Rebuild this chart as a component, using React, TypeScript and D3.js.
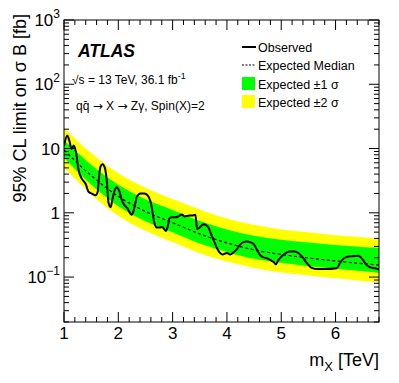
import React from "react";
import * as d3 from "d3";

// expected limit band, sampled every 0.5 TeV
const bandMass = [1.0, 1.5, 2.0, 2.5, 3.0, 3.5, 4.0, 4.5, 5.0, 5.5, 6.0, 6.5, 6.8];
const expMedian = [9.5, 3.8, 1.8, 1.05, 0.7, 0.47, 0.34, 0.265, 0.225, 0.198, 0.178, 0.162, 0.153];
const expPlus2 = [20.8, 8.5, 4.12, 2.46, 1.64, 1.13, 0.816, 0.65, 0.552, 0.497, 0.447, 0.416, 0.393];
const expPlus1 = [13.4, 5.6, 2.73, 1.63, 1.11, 0.745, 0.55, 0.44, 0.382, 0.344, 0.316, 0.295, 0.285];
const expMinus1 = [7.2, 2.75, 1.27, 0.74, 0.5, 0.333, 0.246, 0.192, 0.167, 0.147, 0.135, 0.123, 0.116];
const expMinus2 = [5.1, 1.95, 0.9, 0.526, 0.35, 0.235, 0.174, 0.139, 0.118, 0.106, 0.0956, 0.087, 0.082];

// observed limit
const obsMass = [
  1.0, 1.06, 1.1, 1.14, 1.18, 1.22, 1.27, 1.33, 1.4, 1.45,
  1.52, 1.58, 1.62, 1.64, 1.67, 1.71, 1.75, 1.79, 1.82, 1.86,
  1.89, 1.93, 1.97, 2.02, 2.07, 2.11, 2.17, 2.22, 2.25, 2.3,
  2.34, 2.41, 2.48, 2.54, 2.59, 2.63, 2.66, 2.71, 2.76, 2.81,
  2.85, 2.88, 2.92, 2.94, 2.99, 3.05, 3.11, 3.17, 3.22, 3.29,
  3.36, 3.42, 3.45, 3.49, 3.57, 3.62, 3.66, 3.72, 3.78, 3.82,
  3.88, 3.92, 4.0, 4.06, 4.12, 4.18, 4.24, 4.31, 4.37, 4.43,
  4.49, 4.54, 4.59, 4.65, 4.74, 4.81, 4.87, 4.9, 4.95, 5.02,
  5.09, 5.16, 5.24, 5.32, 5.38, 5.44, 5.5, 5.56, 5.68, 5.81,
  6.02, 6.08, 6.14, 6.21, 6.3, 6.42, 6.48, 6.53, 6.58, 6.63,
  6.73, 6.8,
];
const obsLimit = [
  11.0, 16.0, 13.1, 9.9, 11.2, 8.85, 4.57, 3.37, 2.81, 2.14,
  1.97, 1.87, 2.11, 3.25, 5.17, 5.7, 5.08, 3.02, 1.43, 1.22,
  1.59, 2.19, 2.5, 2.15, 1.53, 1.33, 1.17, 0.98, 0.93, 1.24,
  1.77, 2.0, 2.0, 1.87, 1.53, 1.03, 0.72, 0.59, 0.59, 0.6,
  0.55, 0.52, 0.67, 0.82, 0.85, 0.85, 0.88, 0.94, 0.88, 0.9,
  0.91, 0.93, 0.56, 0.58, 0.665, 0.64, 0.59, 0.44, 0.334, 0.279,
  0.234, 0.225, 0.238, 0.225, 0.242, 0.27, 0.317, 0.353, 0.357, 0.349,
  0.328, 0.279, 0.234, 0.206, 0.195, 0.182, 0.169, 0.158, 0.185, 0.214,
  0.238, 0.249, 0.249, 0.235, 0.21, 0.179, 0.155, 0.139, 0.133, 0.133,
  0.137, 0.164, 0.192, 0.206, 0.211, 0.214, 0.197, 0.172, 0.152, 0.143,
  0.137, 0.132,
];

const xTickValues = [1, 2, 3, 4, 5, 6];
const yTickExponents = [-1, 0, 1, 2, 3];
const legendLabels = ["Observed", "Expected Median", "Expected \u00b11 \u03c3", "Expected \u00b12 \u03c3"];

const FONT = "'Liberation Sans', Arial, Helvetica, sans-serif";
const ARROW_FONT = "'DejaVu Sans', sans-serif";

export default function App() {
  const width = 399;
  const height = 383;
  const margin = { top: 20, right: 20, bottom: 61, left: 64 };
  const x0 = margin.left;
  const x1 = width - margin.right;
  const y0 = margin.top;
  const y1 = height - margin.bottom;

  const x = d3.scaleLinear().domain([1, 6.8]).range([x0, x1]);
  const y = d3.scaleLog().domain([0.02, 1000]).range([y1, y0]);

  const idx = d3.range(bandMass.length);
  const band = (lo: number[], hi: number[]) =>
    d3
      .area<number>()
      .x((i) => x(bandMass[i]))
      .y0((i) => y(lo[i]))
      .y1((i) => y(hi[i]))
      .curve(d3.curveMonotoneX)(idx) || "";

  const medianPath =
    d3
      .line<number>()
      .x((i) => x(bandMass[i]))
      .y((i) => y(expMedian[i]))
      .curve(d3.curveMonotoneX)(idx) || "";

  const obsPath =
    d3
      .line<number>()
      .x((i) => x(obsMass[i]))
      .y((i) => y(obsLimit[i]))
      .curve(d3.curveMonotoneX)(d3.range(obsMass.length)) || "";

  // minor ticks
  const xMinor = d3.range(1, 6.8001, 0.2).filter((v) => Math.abs(v - Math.round(v)) > 0.01);
  const yMinor: number[] = [];
  for (let e = -2; e <= 2; e++) {
    for (let k = 2; k <= 9; k++) {
      const v = k * Math.pow(10, e);
      if (v >= 0.02 && v <= 1000) yMinor.push(v);
    }
  }

  const majorLen = 10;
  const minorLen = 5;
  const legX = 242;
  const legRows = [47, 65, 84, 102];

  return (
    <svg
      width={width}
      height={height}
      style={{ position: "absolute", left: 0, top: 0, background: "#fff" }}
      fontFamily={FONT}
    >
      <defs>
        <clipPath id="frame">
          <rect x={x0} y={y0} width={x1 - x0} height={y1 - y0} />
        </clipPath>
      </defs>

      <g clipPath="url(#frame)">
        <path d={band(expMinus2, expPlus2)} fill="#ffff00" />
        <path d={band(expMinus1, expPlus1)} fill="#00ff00" />
        <path d={medianPath} fill="none" stroke="#000" strokeWidth={1.2} strokeDasharray="3 2.5" />
        <path d={obsPath} fill="none" stroke="#000" strokeWidth={2} strokeLinejoin="round" />
      </g>

      {/* frame and ticks */}
      <rect x={x0} y={y0} width={x1 - x0} height={y1 - y0} fill="none" stroke="#000" strokeWidth={1} />
      <g stroke="#000" strokeWidth={1}>
        {xTickValues.map((v) => (
          <g key={`xM${v}`}>
            <line x1={x(v)} x2={x(v)} y1={y1} y2={y1 - majorLen} />
            <line x1={x(v)} x2={x(v)} y1={y0} y2={y0 + majorLen} />
          </g>
        ))}
        {xMinor.map((v) => (
          <g key={`xm${v}`}>
            <line x1={x(v)} x2={x(v)} y1={y1} y2={y1 - minorLen} />
            <line x1={x(v)} x2={x(v)} y1={y0} y2={y0 + minorLen} />
          </g>
        ))}
        {yTickExponents.map((e) => {
          const py = y(Math.pow(10, e));
          return (
            <g key={`yM${e}`}>
              <line x1={x0} x2={x0 + majorLen} y1={py} y2={py} />
              <line x1={x1} x2={x1 - majorLen} y1={py} y2={py} />
            </g>
          );
        })}
        {yMinor.map((v) => (
          <g key={`ym${v}`}>
            <line x1={x0} x2={x0 + minorLen} y1={y(v)} y2={y(v)} />
            <line x1={x1} x2={x1 - minorLen} y1={y(v)} y2={y(v)} />
          </g>
        ))}
      </g>

      {/* tick labels */}
      <g fontSize={17} fill="#000">
        {xTickValues.map((v) => (
          <text key={`xl${v}`} x={x(v)} y={y1 + 17} textAnchor="middle">
            {v}
          </text>
        ))}
        {yTickExponents.map((e) => {
          const py = y(Math.pow(10, e)) + 6;
          if (e === 0)
            return (
              <text key={`yl${e}`} x={60} y={py} textAnchor="end">
                1
              </text>
            );
          if (e === 1)
            return (
              <text key={`yl${e}`} x={60} y={py} textAnchor="end">
                10
              </text>
            );
          return (
            <text key={`yl${e}`} x={60} y={py} textAnchor="end">
              10
              <tspan fontSize={12} dy={-8}>
                {e < 0 ? `\u2212${-e}` : e}
              </tspan>
            </text>
          );
        })}
      </g>

      {/* axis titles */}
      <text transform={`translate(26, 14) rotate(-90)`} textAnchor="end" fontSize={18}>
        95% CL limit on σ B [fb]
      </text>
      <text x={x1} y={366} textAnchor="end" fontSize={18}>
        m<tspan fontSize={13} dy={5}>X</tspan>
        <tspan dy={-5}> [TeV]</tspan>
      </text>

      {/* labels */}
      <text x={78} y={57} fontSize={17.5} fontWeight="bold" fontStyle="italic">
        ATLAS
      </text>
      <text x={72} y={84} fontSize={12}>
        √s = 13 TeV, 36.1 fb
        <tspan fontSize={9} dy={-5}>
          -1
        </tspan>
      </text>
      <text x={76} y={110} fontSize={12}>
        q{"q\u0304"} <tspan fontFamily={ARROW_FONT}>→</tspan> X{" "}
        <tspan fontFamily={ARROW_FONT}>→</tspan> Zγ, Spin(X)=2
      </text>

      {/* legend */}
      <g fontSize={12.5}>
        <line x1={legX} x2={legX + 14} y1={legRows[0]} y2={legRows[0]} stroke="#000" strokeWidth={2} />
        <line
          x1={legX}
          x2={legX + 14}
          y1={legRows[1]}
          y2={legRows[1]}
          stroke="#000"
          strokeWidth={1.2}
          strokeDasharray="2 1.5"
        />
        <rect x={legX} y={legRows[2] - 7} width={13} height={13} fill="#00ff00" />
        <rect x={legX} y={legRows[3] - 7} width={13} height={13} fill="#ffff00" />
        {legendLabels.map((t, i) => (
          <text key={t} x={legX + 16} y={legRows[i] + 4.5}>
            {t}
          </text>
        ))}
      </g>
    </svg>
  );
}
